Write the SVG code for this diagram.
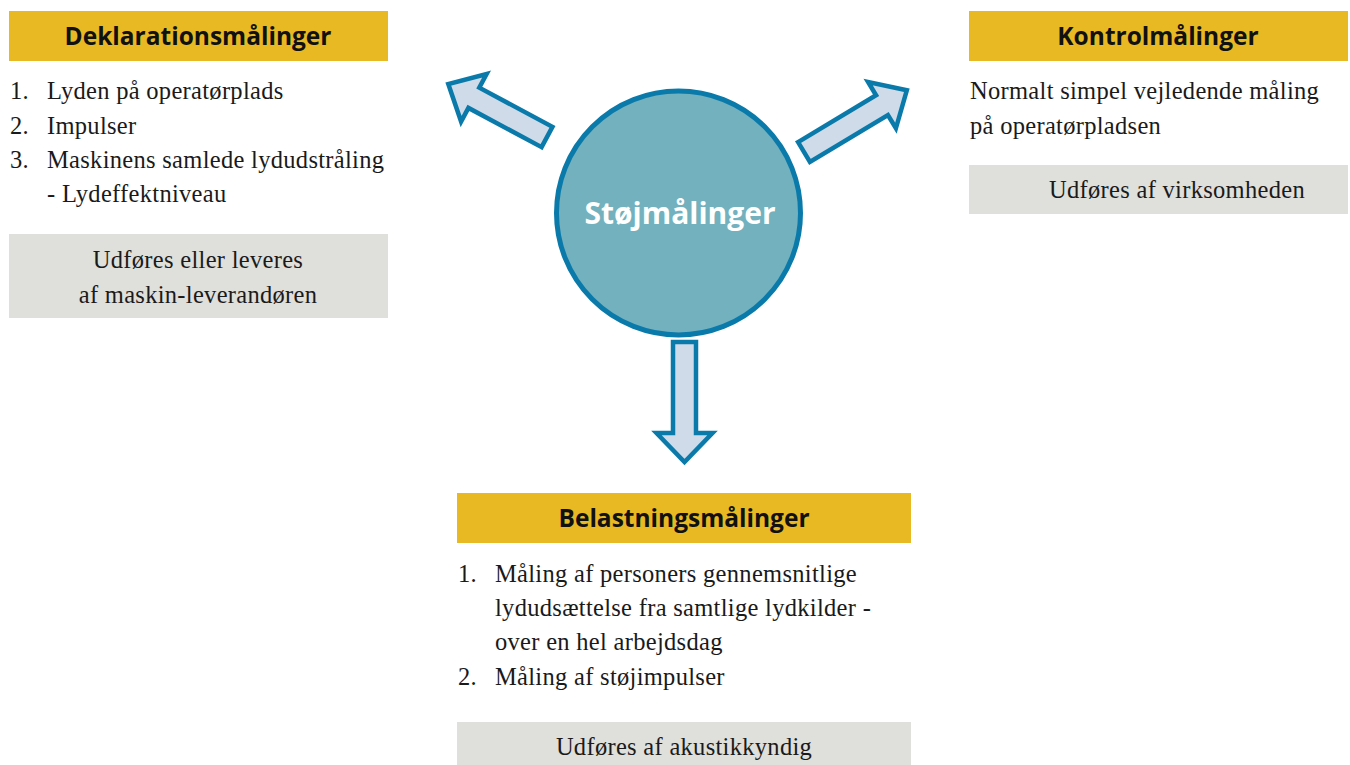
<svg xmlns="http://www.w3.org/2000/svg" width="1350" height="765" viewBox="0 0 1350 765">
<style>
.hdr{fill:#e8b923}
.gry{fill:#dfdfdb}
.ht{font-family:"Open Sans",sans-serif;font-weight:700;font-size:24.5px;fill:#111;text-anchor:middle}
.bt{font-family:"Liberation Serif","DejaVu Serif",serif;font-size:24.5px;letter-spacing:0.3px;fill:#1a1a1a}
.ct{text-anchor:middle}
.arr{fill:#cfdbe8;stroke:#0a7aab;stroke-width:4.5;stroke-linejoin:miter}
</style>
<rect width="1350" height="765" fill="#fff"/>
<g id="connectors">
<polygon class="arr" transform="translate(684.5,342) rotate(90)" points="0,-11.5 91,-11.5 91,-28 120,0 91,28 91,11.5 0,11.5"/>
<polygon class="arr" transform="translate(547,137) rotate(-151.8)" points="0,-11.5 83,-11.5 83,-27 112,0 83,27 83,11.5 0,11.5"/>
<polygon class="arr" transform="translate(804,152) rotate(-31)" points="0,-11.5 91,-11.5 91,-27 120,0 91,27 91,11.5 0,11.5"/>
</g>
<g id="center">
<circle cx="678.5" cy="213" r="122" fill="#72b1bd" stroke="#0a7aab" stroke-width="5"/>
<text x="680" y="224" text-anchor="middle" font-family="'Open Sans',sans-serif" font-weight="700" font-size="30" fill="#fff">Støjmålinger</text>
</g>
<g id="deklaration">
<rect class="hdr" x="9" y="11" width="379" height="50"/>
<text class="ht" x="198" y="45">Deklarationsmålinger</text>
<text class="bt" x="10" y="99">1.</text><text class="bt" x="47" y="99">Lyden på operatørplads</text>
<text class="bt" x="10" y="134">2.</text><text class="bt" x="47" y="134">Impulser</text>
<text class="bt" x="10" y="168">3.</text><text class="bt" x="47" y="168">Maskinens samlede lydudstråling</text>
<text class="bt" x="47" y="202">- Lydeffektniveau</text>
<rect class="gry" x="9" y="234" width="379" height="84"/>
<text class="bt ct" x="198" y="268">Udføres eller leveres</text>
<text class="bt ct" x="198" y="303">af maskin-leverandøren</text>
</g>
<g id="kontrol">
<rect class="hdr" x="969" y="11" width="379" height="50"/>
<text class="ht" x="1158" y="45">Kontrolmålinger</text>
<text class="bt" x="970" y="99">Normalt simpel vejledende måling</text>
<text class="bt" x="970" y="134">på operatørpladsen</text>
<rect class="gry" x="969" y="165" width="379" height="49"/>
<text class="bt ct" x="1177" y="198">Udføres af virksomheden</text>
</g>
<g id="belastning">
<rect class="hdr" x="457" y="493" width="454" height="50"/>
<text class="ht" x="684" y="527">Belastningsmålinger</text>
<text class="bt" x="458" y="582">1.</text><text class="bt" x="495" y="582">Måling af personers gennemsnitlige</text>
<text class="bt" x="495" y="616">lydudsættelse fra samtlige lydkilder -</text>
<text class="bt" x="495" y="650">over en hel arbejdsdag</text>
<text class="bt" x="458" y="685">2.</text><text class="bt" x="495" y="685">Måling af støjimpulser</text>
<rect class="gry" x="457" y="722" width="454" height="43"/>
<text class="bt ct" x="684" y="755">Udføres af akustikkyndig</text>
</g>
</svg>
